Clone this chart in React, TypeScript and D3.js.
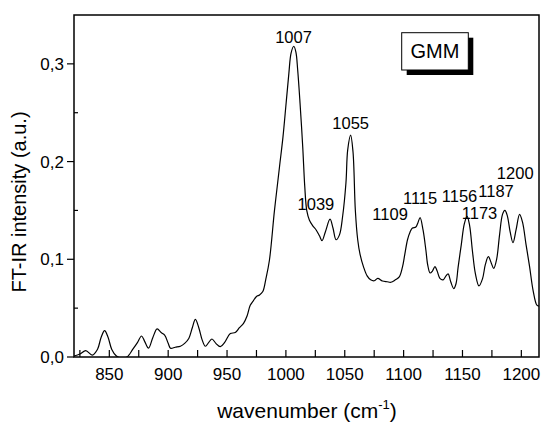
import React from "react";
import * as d3 from "d3";

const wavenumber: number[] = [
  820, 825, 830, 835.5, 840, 843, 846, 849, 852, 856, 860, 865, 870, 874, 877.4, 880, 883.3, 887, 890.6, 894,
  897, 900, 902, 906, 910.4, 914, 917.5, 920.5, 923.1, 926, 929, 931.6, 934.5, 937.2, 940.5, 944.3, 948, 952.8,
  957, 960.5, 964, 967, 969.7, 972, 975, 977.6, 980.4, 983, 986, 990.3, 994.6, 997.5, 1000.2, 1002.5, 1004.4,
  1006.7, 1008.5, 1010, 1012, 1014.3, 1016, 1017.7, 1020, 1023, 1025.7, 1028.5, 1030.7, 1033.5, 1037.5, 1040,
  1042.6, 1045.5, 1048.2, 1051, 1052.5, 1055, 1057, 1059, 1061, 1063, 1066, 1069, 1072, 1075, 1078, 1082, 1086,
  1089.2, 1093, 1096.3, 1099, 1101, 1103.3, 1105.5, 1107.5, 1110.4, 1112, 1114, 1116.5, 1118.9, 1120.5, 1122.5,
  1124.5, 1126.6, 1128.5, 1130.8, 1133.6, 1136, 1137.8, 1140, 1142.6, 1144.5, 1146.3, 1149, 1151.5, 1153.9, 1156,
  1158.5, 1161, 1164, 1167, 1169.5, 1172, 1174.5, 1176.5, 1179, 1181.5, 1184, 1186, 1188, 1190.5, 1192.9, 1195.5,
  1198.5, 1201, 1204, 1207, 1210, 1213.2, 1215,
];

const intensity: number[] = [
  0.001, 0.003, 0.0065, 0.002, 0.008, 0.02, 0.027, 0.02, 0.008, 0.001, -0.001, 0.0, 0.008, 0.015, 0.0215, 0.016,
  0.009, 0.02, 0.0287, 0.025, 0.0225, 0.014, 0.009, 0.01, 0.011, 0.014, 0.019, 0.03, 0.0386, 0.03, 0.017, 0.011,
  0.015, 0.0184, 0.014, 0.0106, 0.015, 0.024, 0.025, 0.03, 0.0345, 0.042, 0.053, 0.057, 0.062, 0.0635, 0.067,
  0.08, 0.099, 0.15, 0.195, 0.225, 0.26, 0.29, 0.311, 0.318, 0.312, 0.294, 0.26, 0.215, 0.175, 0.15, 0.14, 0.134,
  0.13, 0.124, 0.119, 0.128, 0.141, 0.132, 0.12, 0.125, 0.144, 0.178, 0.212, 0.227, 0.21, 0.15, 0.12, 0.105,
  0.092, 0.083, 0.079, 0.078, 0.0805, 0.0778, 0.077, 0.0765, 0.079, 0.082, 0.092, 0.105, 0.12, 0.128, 0.132,
  0.133, 0.137, 0.1426, 0.13, 0.1095, 0.094, 0.086, 0.088, 0.0925, 0.088, 0.0805, 0.079, 0.083, 0.085, 0.077,
  0.07, 0.075, 0.092, 0.115, 0.136, 0.144, 0.135, 0.108, 0.085, 0.0727, 0.08, 0.095, 0.1027, 0.096, 0.0907, 0.1,
  0.125, 0.146, 0.15, 0.145, 0.128, 0.117, 0.13, 0.146, 0.138, 0.115, 0.0925, 0.068, 0.053, 0.052,
];

// peak annotations: label text, and label anchor (wavenumber, intensity) position
const peakLabels: string[] = ["1007", "1039", "1055", "1109", "1115", "1156", "1173", "1187", "1200"];
const peakLabelX: number[] = [1006.5, 1025.5, 1055, 1088.5, 1114, 1147.5, 1164.5, 1178.5, 1194.8];
const peakLabelY: number[] = [0.321, 0.1505, 0.233, 0.1405, 0.1565, 0.1585, 0.1415, 0.1635, 0.182];

const xTicks: number[] = [850, 900, 950, 1000, 1050, 1100, 1150, 1200];
const xMinorTicks: number[] = [825, 850, 875, 900, 925, 950, 975, 1000, 1025, 1050, 1075, 1100, 1125, 1150, 1175, 1200];
const yTicks: number[] = [0, 0.1, 0.2, 0.3];
const yTickLabels: string[] = ["0,0", "0,1", "0,2", "0,3"];
const yMinorTicks: number[] = [0.05, 0.15, 0.25];

const W = 544;
const H = 423;
const left = 74;
const right = 539;
const top = 15;
const bottom = 357;
const FONT = "'Liberation Sans', Arial, sans-serif";

export default function App() {
  const x = d3.scaleLinear().domain([820, 1215]).range([left, right]);
  const y = d3.scaleLinear().domain([0, 0.35]).range([bottom, top]);
  const pts: [number, number][] = wavenumber.map((w, i) => [w, intensity[i]]);
  const line = d3
    .line<[number, number]>()
    .x((d) => x(d[0]))
    .y((d) => y(d[1]))
    .curve(d3.curveCatmullRom.alpha(0.5));

  return (
    <svg width={W} height={H} style={{ position: "absolute", left: 0, top: 0, background: "#fff" }} fontFamily={FONT}>
      <defs>
        <clipPath id="plotclip">
          <rect x={left} y={top} width={right - left} height={bottom - top} />
        </clipPath>
      </defs>
      <rect x={0} y={0} width={W} height={H} fill="#fff" />
      <path d={line(pts) || ""} fill="none" stroke="#000" strokeWidth={1.2} clipPath="url(#plotclip)" />
      {/* frame */}
      <rect x={left} y={top} width={right - left} height={bottom - top} fill="none" stroke="#000" strokeWidth={1.5} />
      {/* x ticks inward */}
      {xMinorTicks.map((t) => (
        <line key={"xm" + t} x1={x(t)} x2={x(t)} y1={bottom} y2={bottom - 7} stroke="#000" strokeWidth={1.2} />
      ))}
      {xTicks.map((t) => (
        <text key={"xl" + t} x={x(t)} y={379.5} fontSize={17} textAnchor="middle" fill="#000">
          {t}
        </text>
      ))}
      {/* y ticks */}
      {yTicks.map((t, i) => (
        <g key={"y" + t}>
          <line x1={left - 7} x2={left} y1={y(t)} y2={y(t)} stroke="#000" strokeWidth={1.2} />
          <text x={64} y={y(t) + 6} fontSize={17} textAnchor="end" fill="#000">
            {yTickLabels[i]}
          </text>
        </g>
      ))}
      {yMinorTicks.map((t) => (
        <line key={"ym" + t} x1={left} x2={left + 4} y1={y(t)} y2={y(t)} stroke="#000" strokeWidth={1.2} />
      ))}
      {/* axis titles */}
      <text x={307} y={418} fontSize={21} textAnchor="middle" fill="#000">
        wavenumber (cm
        <tspan fontSize={13} dy={-9}>-1</tspan>
        <tspan dy={9}>)</tspan>
      </text>
      <text transform={`translate(25.5,202) rotate(-90)`} fontSize={20} textAnchor="middle" fill="#000">
        FT-IR intensity (a.u.)
      </text>
      {/* peak labels */}
      {peakLabels.map((p, i) => (
        <text key={"p" + p} x={x(peakLabelX[i])} y={y(peakLabelY[i])} fontSize={16.5} textAnchor="middle" fill="#000">
          {p}
        </text>
      ))}
      {/* GMM box */}
      <rect x={406.7} y={37.7} width={66.6} height={37.3} fill="#000" />
      <rect x={401.7} y={32.7} width={66.6} height={37.3} fill="#fff" stroke="#000" strokeWidth={1} />
      <text x={435} y={57.5} fontSize={20} textAnchor="middle" fill="#000">
        GMM
      </text>
    </svg>
  );
}
